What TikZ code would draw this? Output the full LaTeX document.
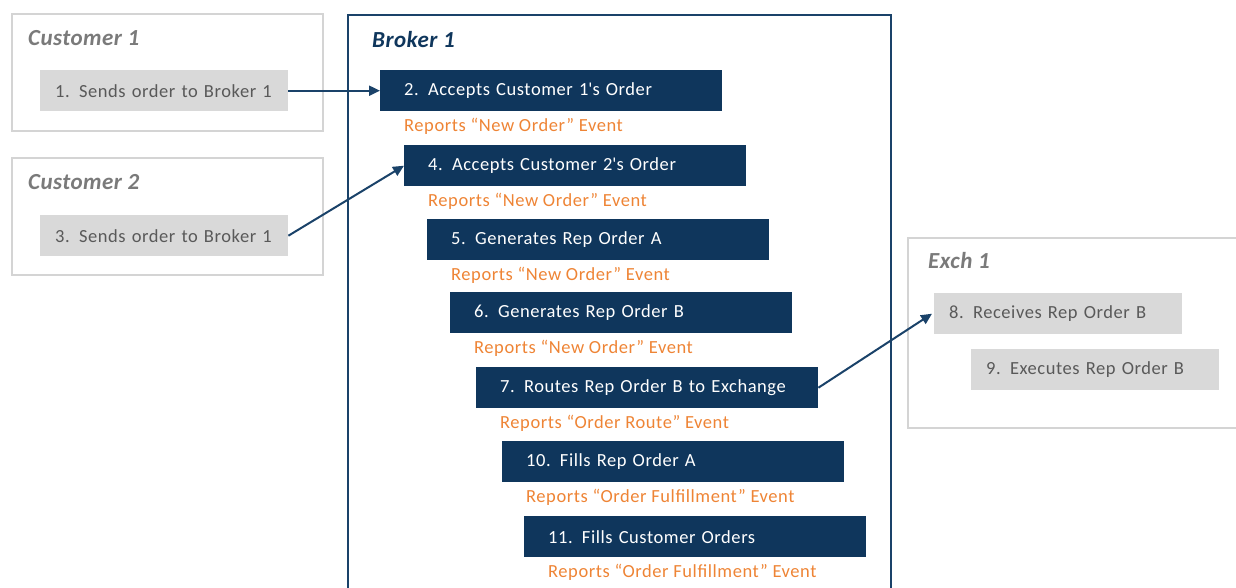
\documentclass[tikz,border=0pt]{standalone}
\usepackage{fontspec}
\setmainfont{Carlito}
\usetikzlibrary{arrows.meta,positioning}
\definecolor{navy}{HTML}{0F365C}
\definecolor{navyline}{HTML}{1A4269}
\definecolor{boxgray}{HTML}{D9D9D9}
\definecolor{framegray}{HTML}{D4D4D4}
\definecolor{textgray}{HTML}{595959}
\definecolor{titlegray}{HTML}{7A7A7A}
\definecolor{reportorange}{HTML}{EE8435}
\newcommand{\stepfont}{\fontsize{18.5}{22}\selectfont\addfontfeature{LetterSpace=3}}
\newcommand{\titlefont}{\fontsize{23}{26}\selectfont\bfseries\itshape\addfontfeature{LetterSpace=2}}
\tikzset{%
  group/.style={draw=framegray, line width=2pt, minimum width=311pt, minimum height=117pt, anchor=north west, inner sep=0pt},
  grouptitle/.style={anchor=west, inner sep=0pt, font=\titlefont, text=titlegray},
  outstep/.style={fill=boxgray, text=textgray, font=\stepfont, anchor=north west, minimum width=248pt, minimum height=41pt, inner xsep=15pt, text width=218pt, align=left},
  brokerstep/.style={fill=navy, text=white, font=\stepfont, anchor=north west, minimum width=342pt, minimum height=41pt, inner xsep=24pt, text width=294pt, align=left},
  report/.style={anchor=west, inner sep=0pt, text=reportorange, font=\stepfont},
  line/.style={draw, line width=2pt, color=navyline, -{Triangle[length=11pt,width=10pt]}},
}
\newcommand{\reports}[2]{%
  \node (r#1) [report] at ([xshift=24pt,yshift=-15pt]b#1.south west) {Reports “#2” Event};}

\begin{document}
\begin{tikzpicture}[x=1pt,y=-1pt]
  \useasboundingbox (0,0) rectangle (1236,587);

  % customers
  \node (cust1) [group] at (11,13) {};
  \node (cust2) [group] at (11,157) {};
  \node [grouptitle] at ([xshift=17pt,yshift=-25pt]cust1.north west) {Customer 1};
  \node [grouptitle] at ([xshift=17pt,yshift=-25pt]cust2.north west) {Customer 2};
  \node (s1) [outstep] at (40,70) {1. Sends order to Broker 1};
  \node (s3) [outstep] at (40,215) {3. Sends order to Broker 1};

  % broker
  \node (broker) [group, draw=navyline, minimum width=543pt, minimum height=590pt] at (347,14) {};
  \node [grouptitle, text=navy] at ([xshift=25pt,yshift=-26pt]broker.north west) {Broker 1};
  \node (b2) [brokerstep] at (380,70) {2. Accepts Customer 1\textquotesingle s Order};
  \node (b4) [brokerstep] at (404,145) {4. Accepts Customer 2\textquotesingle s Order};
  \node (b5) [brokerstep] at (427,219) {5. Generates Rep Order A};
  \node (b6) [brokerstep] at (450,292) {6. Generates Rep Order B};
  \node (b7) [brokerstep] at (476,367) {7. Routes Rep Order B to Exchange};
  \node (b10) [brokerstep] at (502,441) {10. Fills Rep Order A};
  \node (b11) [brokerstep] at (524,516) {11. Fills Customer Orders};
  \reports{2}{New Order}
  \reports{4}{New Order}
  \reports{5}{New Order}
  \reports{6}{New Order}
  \reports{7}{Order Route}
  \reports{10}{Order Fulfillment}
  \reports{11}{Order Fulfillment}

  % exchange
  \node (exch) [group, minimum width=340pt, minimum height=190pt] at (907,237) {};
  \node [grouptitle] at ([xshift=21pt,yshift=-24pt]exch.north west) {Exch 1};
  \node (s8) [outstep] at (934,293) {8. Receives Rep Order B};
  \node (s9) [outstep] at (971,349) {9. Executes Rep Order B};

  \path [line] (s1.east) -- (b2.west);
  \path [line] (s3.east) -- (b4.west);
  \path [line] (b7.east) -- ([xshift=-2pt]s8.west);
\end{tikzpicture}
\end{document}
